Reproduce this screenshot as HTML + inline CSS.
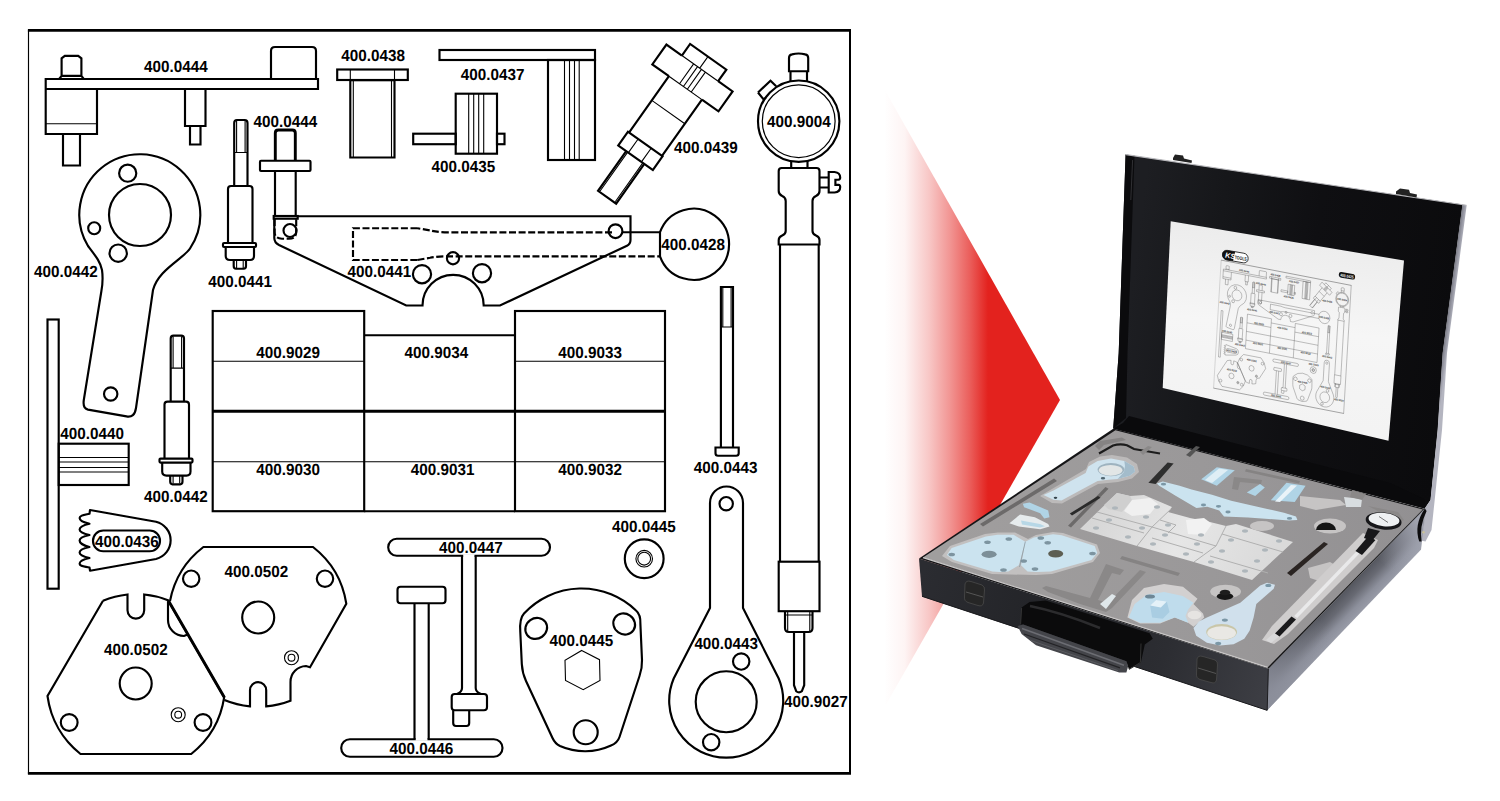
<!DOCTYPE html>
<html lang="de"><head><meta charset="utf-8"><title>400.0425</title>
<style>
html,body{margin:0;padding:0;background:#fff}
svg{display:block}
#dr path,#dr rect,#dr circle,#dr ellipse{fill:none;stroke:#000;stroke-width:2.15}
#dr .t{stroke-width:1.1}
#dr .m{stroke-width:1.2}
#dr .k{stroke-width:2.9}
#dr .d{stroke-dasharray:7 2.6}
#dr .w{stroke:#fff;stroke-width:3}
#dr text{font-family:"Liberation Sans",sans-serif;font-weight:bold;font-size:16.1px;fill:#000;stroke:none;text-rendering:geometricPrecision}
#mini path,#mini rect,#mini circle,#mini ellipse{fill:none;stroke:#4a4a4a;stroke-width:2}
#mini .w{stroke:#f4f4f4}
#mini text{font-family:"Liberation Sans",sans-serif;font-weight:bold;font-size:15px;fill:#333}
</style></head><body>
<svg width="1500" height="801" viewBox="0 0 1500 801">
<defs><linearGradient id="ag" gradientUnits="userSpaceOnUse" x1="884" y1="0" x2="988" y2="0">
<stop offset="0" stop-color="#e3221e" stop-opacity="0"/><stop offset="0.2" stop-color="#e3221e" stop-opacity="0.05"/><stop offset="0.44" stop-color="#e3221e" stop-opacity="0.26"/><stop offset="0.635" stop-color="#e3221e" stop-opacity="0.48"/><stop offset="0.827" stop-color="#e3221e" stop-opacity="0.73"/><stop offset="1" stop-color="#e3221e" stop-opacity="1"/></linearGradient></defs>
<path fill="url(#ag)" d="M880,81.5 L1060,400 L880,715 Z"/>
<defs>
<linearGradient id="lidg" gradientUnits="userSpaceOnUse" x1="1130" y1="300" x2="1450" y2="340">
<stop offset="0" stop-color="#1d1e22"/><stop offset="0.25" stop-color="#16171a"/><stop offset="0.55" stop-color="#0f0f12"/><stop offset="1" stop-color="#0b0b0d"/></linearGradient>
<linearGradient id="wallg" gradientUnits="userSpaceOnUse" x1="1440" y1="353" x2="1447.5" y2="354">
<stop offset="0" stop-color="#4a4b52"/><stop offset="0.5" stop-color="#8b8c97"/><stop offset="1" stop-color="#b4b5c0"/></linearGradient>
<linearGradient id="frontfg" gradientUnits="userSpaceOnUse" x1="920" y1="580" x2="1268" y2="690">
<stop offset="0" stop-color="#2b2c31"/><stop offset="0.35" stop-color="#232428"/><stop offset="0.7" stop-color="#2c2d32"/><stop offset="1" stop-color="#3d3e44"/></linearGradient>
<linearGradient id="sideg" gradientUnits="userSpaceOnUse" x1="1346" y1="589" x2="1366" y2="608.5"><stop offset="0" stop-color="#54565e"/><stop offset="0.35" stop-color="#686a73"/><stop offset="0.7" stop-color="#8c8f9b"/><stop offset="1" stop-color="#9a9da9"/></linearGradient><linearGradient id="sidef" gradientUnits="userSpaceOnUse" x1="1268" y1="690" x2="1330" y2="628"><stop offset="0" stop-color="#8b8e9a" stop-opacity="0.9"/><stop offset="1" stop-color="#8b8e9a" stop-opacity="0"/></linearGradient><linearGradient id="sideh" gradientUnits="userSpaceOnUse" x1="1423" y1="528" x2="1385" y2="566"><stop offset="0" stop-color="#a3a6b2" stop-opacity="0.95"/><stop offset="1" stop-color="#a3a6b2" stop-opacity="0"/></linearGradient>
<linearGradient id="frontg" gradientUnits="userSpaceOnUse" x1="0" y1="0" x2="12" y2="-38" spreadMethod="pad">
<stop offset="0" stop-color="#1a1a1a"/><stop offset="1" stop-color="#101010"/></linearGradient>
<linearGradient id="paperg" gradientUnits="userSpaceOnUse" x1="1290" y1="235" x2="1270" y2="420">
<stop offset="0" stop-color="#ececec"/><stop offset="0.5" stop-color="#f6f6f6"/><stop offset="1" stop-color="#f3f3f3"/></linearGradient>
<linearGradient id="alu" gradientUnits="userSpaceOnUse" x1="1100" y1="500" x2="1260" y2="580">
<stop offset="0" stop-color="#d6d6d6"/><stop offset="0.5" stop-color="#e6e6e6"/><stop offset="1" stop-color="#dadada"/></linearGradient>
<linearGradient id="foamg" gradientUnits="userSpaceOnUse" x1="950" y1="560" x2="1420" y2="520"><stop offset="0" stop-color="#a09e9e"/><stop offset="0.55" stop-color="#9a9899"/><stop offset="1" stop-color="#929092"/></linearGradient>
</defs>
<polygon points="1125.6,154.5 1462.6,204.6 1442.8,353 1437.8,430 1430.6,500 1424.8,508.6 1113.2,428.4 1118.7,353" fill="url(#lidg)" />
<polygon points="1125.6,154.5 1134.5,155.8 1127.5,353 1126,418 1113.2,428.4 1118.7,353" fill="#0b0b0d" />
<path d="M1132.6,160 L1130.8,200" stroke="#3a3a3e" stroke-width="0.8" fill="none"/>
<polygon points="1462.4,204.6 1466.7,205.2 1447,353 1442,430 1434.7,500 1431.5,530 1425.5,541.5 1420.5,540.5 1419.5,531 1424.6,508.7 1430.5,500 1437.6,430 1442.6,353" fill="url(#wallg)" />
<path d="M1126,154.6 L1466.4,205.2" stroke="#b9b9bd" stroke-width="1.1" fill="none"/>
<polygon points="1173,158 1175,154.5 1183,155.5 1184,158.5 1192,160.5 1191.5,163 1173,160" fill="#222" />
<polygon points="1396,191.5 1400,188.5 1409,189.8 1410,193 1417,194.5 1416.5,197.5 1396,194" fill="#222" />
<polygon points="1129,416 1160,424 1390,483 1424,499 1425,508.6 1113.2,428.4 1123,423" fill="#0a0a0c" />
<polygon points="1170.7,221.3 1404,260.5 1388.5,440.8 1162.7,388" fill="url(#paperg)" />
<g id="mini" transform="matrix(0.1583,0.0308,-0.01023,0.1723,1216.99,253.98)">
<path style="stroke-width:2.8px" d="M27.9,30.45 H851"/>
<path style="stroke-width:2.7px" d="M27.9,773.45 H851"/>
<path style="stroke-width:1.15px" d="M28.5,30 V774"/>
<path style="stroke-width:2px" d="M850,30 V774"/>
<path d="M45.7,79 H318 V89 H45.7 Z M45.7,89 V134 H97 V89"/>
<path class="t" d="M45.7,123.7 H97"/>
<path d="M59.3,78.7 L61.6,75.9 V58.3 L64.8,55.9 H78.2 L81.4,58.3 V75.9 L83.6,78.7 M61.6,75.9 H81.4"/>
<path d="M63,134 V165.5 H80 V134 M185,89 V126 H205.5 V89 M190,126 V144.5 H200.5 V126"/>
<path d="M271,79 V51 Q271,47 275,47 H312 Q316,47 316,51 V79"/>
<g transform="translate(0,0)">
<path d="M234.2,186 V123 Q234.2,120 237,120 H244.7 Q247.5,120 247.5,123 V186"/>
<path class="t" d="M236.6,121 V152.5 M245.1,121 V152.5 M234.2,152.5 H247.5"/>
<path d="M228,243 V189 Q228,186 231,186 H249.5 Q252.5,186 252.5,189 V243"/>
<rect x="223" y="243" width="33" height="4" rx="1"/>
<path d="M225.7,247 V256 Q225.7,260 230,260 H250 Q254,260 254,256 V247"/>
<path d="M233.7,260 V266 Q233.7,268.7 236,268.7 H243.7 Q246,268.7 246,266 V260"/>
<path class="t" d="M236.6,260 V268 M243.2,260 V268"/>
</g>
<g transform="translate(-63.5,215.6)">
<path d="M234.2,186 V123 Q234.2,120 237,120 H244.7 Q247.5,120 247.5,123 V186"/>
<path class="t" d="M236.6,121 V152.5 M245.1,121 V152.5 M234.2,152.5 H247.5"/>
<path d="M228,243 V189 Q228,186 231,186 H249.5 Q252.5,186 252.5,189 V243"/>
<rect x="223" y="243" width="33" height="4" rx="1"/>
<path d="M225.7,247 V256 Q225.7,260 230,260 H250 Q254,260 254,256 V247"/>
<path d="M233.7,260 V266 Q233.7,268.7 236,268.7 H243.7 Q246,268.7 246,266 V260"/>
<path class="t" d="M236.6,260 V268 M243.2,260 V268"/>
</g>
<path d="M101.4,291 Q103.4,280 102,270 C100.5,262 96,256.5 88,246 A60.5,60.5 0 1 1 190,248.5 C183,259 158,270 153,290 L136,408 Q134.5,418 126.5,416.4 L88,409.6 Q82.6,408.5 83.8,400 Z"/>
<circle cx="140" cy="215" r="31"/><circle cx="127.7" cy="173.2" r="8.6"/><circle cx="94.2" cy="228.2" r="6"/><circle cx="118.2" cy="253.2" r="8.7"/><circle cx="110.7" cy="394" r="6.7"/>
<path class="k" d="M275.3,160.7 V133 Q275.3,130 278.3,130 H292.3 Q295.3,130 295.3,133 V160.7"/>
<rect x="260" y="160.7" width="50.5" height="10.3" rx="1"/>
<path d="M275,171 V216 M295.7,171 V216"/><rect x="273.7" y="216" width="24" height="2.7"/>
<path class="d" d="M274.6,219 V232 Q274.6,238.7 282,238.7 H289 Q296.2,238.7 296.2,232 V219"/>
<circle cx="290" cy="230.5" r="6.5"/>
<path d="M297,216.2 H630.5 V240 Q630.5,244 627,245.7 L500,305.5 H483.7 A30.6,30.6 0 0 0 422.5,305.5 H406.2 L279,245 Q274.3,242.5 274.3,238 V219"/>
<path class="d" d="M417.5,228.2 H353 V260 H417.5 M612,232.4 H448 Q438,232.4 430,230.4 L417.5,228.2 M417.5,260 L430,257.8 Q437,256.4 445,256.4 H660"/>
<path d="M623,232.2 H660"/>
<circle cx="615.5" cy="231.2" r="6.9"/><circle cx="453" cy="258.2" r="6.1"/><circle cx="422" cy="274.2" r="9.1"/><circle cx="482" cy="273.2" r="9.1"/>
<path d="M660,232.2 A35.6,35.6 0 1 1 660,256.3 Z"/>
<rect x="337.2" y="69.5" width="70.6" height="10.5"/><path d="M350.3,80 V157.5 H394.5 V80"/>
<path class="t" d="M353.3,80 V157 M391.5,80 V157 M350.3,69.5 V80 M394.5,69.5 V80 M350.3,80.6 H394.5"/>
<rect x="439.5" y="50" width="155.5" height="10"/><rect x="548" y="60" width="47" height="100"/>
<path class="t" d="M564.5,60 V160 M569.5,60 V160 M574.5,60 V160 M579.2,60 V160"/>
<rect x="455.7" y="93.7" width="41.3" height="60"/><rect x="413.2" y="133.7" width="42.5" height="10.5"/><rect x="497" y="133.7" width="7.5" height="10.5"/>
<path class="t" d="M468.7,93.7 V153.7 M473.7,93.7 V153.7 M478.7,93.7 V153.7 M483.7,93.7 V153.7"/>
<g transform="matrix(0.815,0.578,-0.578,0.815,699.5,68)"><path d="M-21.6,0 V-14.2 H22.9 V0"/><path d="M-21.6,0 H-40.6 V24.4 H-20.2 M20.3,24.4 H40.6 V0 H22.9"/><path d="M-20.2,24.4 V93.5 M20.3,24.4 V93.5"/><path class="t" d="M-21.6,0 H22.9 M-20.2,24.4 H20.3 M-20.2,54 H20.3 M-9,93.5 V110.3 M7,93.5 V110.3 M-9.9,110.3 V158 M8.7,110.3 V158 M-7.2,0 V24.4 M-2.4,0 V24.4 M2.4,0 V24.4 M7.2,0 V24.4 M0.3,-14.2 V0"/><rect x="-21.5" y="93.5" width="42.5" height="16.8"/><path d="M-11.7,110.3 V159 H10.5 V110.3"/></g>
<circle cx="798.7" cy="121.2" r="40.7"/><circle class="m" cx="798.7" cy="121.2" r="36.4"/>
<path d="M789,71.2 V58 Q789,55 792,54.4 Q798.6,52.6 805.2,54.4 Q808.2,55 808.2,58 V71.2 Z M790.5,71.2 V81.3 M807,71.2 V81.3"/>
<path d="M758,92.5 L770.5,80.7 L776.2,86.2 M758,92.5 L763.7,99.5 L766,97.5"/>
<path d="M791.2,161 V168 M807.5,161 V168"/>
<path d="M781.7,168 H816.5 Q819.5,168 819.5,171 V191 Q819.5,194.5 816,196 Q812.5,197.5 812.5,201 V231 Q812.5,234 816,235.6 Q819.5,237.2 819.5,240 V244.5 H778.7 V240 Q778.7,237.2 782.2,235.6 Q785.7,234 785.7,231 V201 Q785.7,197.5 782.2,196 Q778.7,194.5 778.7,191 V171 Q778.7,168 781.7,168 Z"/>
<path d="M780,244.5 V561.7 M818.7,244.5 V561.7"/><rect x="778.7" y="561.7" width="40.8" height="49.5"/>
<path d="M785,611.2 V628 Q785,632 789,632 H808.5 Q812.5,632 812.5,628 V611.2"/>
<path class="t" d="M787.7,611.2 V631 M809.8,611.2 V631 M785,615 H812.5"/>
<path d="M794,632 V685.2 L796.2,691.2 Q799,693.6 801.9,691.2 L804.2,685.2 V632"/>
<path d="M819.5,177.5 H828.7 M819.5,187.5 H828.7 M828.7,172 H834.5 Q840.2,172.5 840.2,177.5 Q840.2,179.5 838.5,179.7 H835.4 V184.8 H838.5 Q840.2,185 840.2,187 Q840.2,192 834.5,192.5 H828.7 Z"/>
<path d="M720.9,447.5 V287 H733 V447.5"/><path class="t" d="M722.8,287 V327 M731.1,287 V327 M720.9,327 H733"/>
<path d="M715.5,447.5 H738.7 V453.2 Q738.7,455.7 736.2,455.7 H718 Q715.5,455.7 715.5,453.2 Z"/>
<path d="M710,608 V503 A16.5,16.5 0 0 1 743,503 V608 L778.7,678.5 A57,57 0 1 1 673.7,678.5 Z"/>
<circle cx="726.2" cy="701.7" r="30.5"/><circle cx="741.2" cy="661.5" r="8.2"/><circle cx="711.2" cy="742.2" r="8.2"/><circle cx="726.2" cy="503.7" r="6.7"/>
<rect x="212.7" y="311" width="151.5" height="200.2"/><rect x="515" y="311" width="150" height="200.2"/>
<path d="M364.2,335.2 H515 M364.2,511.2 H515"/><path class="k" d="M212.7,411.2 H665"/>
<path class="t" d="M212.7,361.3 H364.2 M515,361.3 H665 M212.7,461.8 H665"/>
<rect x="47.5" y="319.5" width="11.2" height="269.2"/><rect x="58.7" y="443.7" width="70" height="41.3"/>
<path class="t" d="M58.7,457.5 H128.7 M58.7,462 H128.7 M58.7,467.5 H128.7 M58.7,472 H128.7"/>
<path stroke-linejoin="round" d="M90,570.7 L156,559 A19.2,19.2 0 0 0 156,521.7 L90,510 L89.5,513.8 C84,515.0 79.6,515.4 79.6,518 C79.6,520.6 84,522.5 89.5,523.7 C84,524.9000000000001 79.6,526.9 79.6,529.5 C79.6,532.1 84,533.8 89.5,535 C84,536.2 79.6,537.9 79.6,540.5 C79.6,543.1 84,545.8 89.5,547 C84,548.2 79.6,549.9 79.6,552.5 C79.6,555.1 84,556.8 89.5,558 C84,559.2 79.6,561.1 79.6,563.7 C79.6,566.3000000000001 84,566.3 89.5,567.5 Z"/>
<rect x="93" y="530.5" width="67" height="20.7" rx="10.3"/>
<path d="M103,600.7 A89.3,89.3 0 0 1 127.5,594.5 V610.3 A8.35,8.35 0 0 0 144.2,610.3 V594.5 A89.3,89.3 0 0 1 168,600.3 V620 A16,16 0 0 0 184,636 L187.6,634.5 M168,600.3 L224.2,697.2 A89.3,89.3 0 0 1 191.2,754 H80.5 A89.3,89.3 0 0 1 47.5,696 L103,600.7"/>
<circle cx="135.7" cy="683.5" r="16"/>
<circle cx="69.2" cy="722.5" r="8.4"/>
<circle cx="203" cy="722.5" r="8.4"/>
<circle class="t" cx="178.2" cy="714.7" r="7"/>
<circle class="t" cx="178.2" cy="714.7" r="3.4"/>
<path class="k" d="M168.6,601 L224.4,697.6"/>
<path d="M170,601 A89.3,89.3 0 0 1 203.4,547 H313 A89.3,89.3 0 0 1 346.3,603.7 L310,667.2 L306,666 A16,16 0 0 0 290.5,682 V700.8 A89.3,89.3 0 0 1 266.2,706.4 V690.2 A8.1,8.1 0 0 0 250,690.2 V706.4 A89.3,89.3 0 0 1 224.4,700"/>
<circle cx="258.2" cy="617.5" r="16"/>
<circle cx="191.2" cy="578.7" r="8.2"/>
<circle cx="325" cy="578.7" r="8.2"/>
<circle class="t" cx="291.5" cy="657.7" r="7"/>
<circle class="t" cx="291.5" cy="657.7" r="3.4"/>
<rect x="388.2" y="538.7" width="161.8" height="17" rx="8.5"/>
<path class="w" d="M463.2,555.7 H474.5"/>
<path d="M462,555.7 V688 Q462,692 457,694 M475.7,555.7 V688 Q475.7,692 481,694"/>
<rect x="451.7" y="694" width="35.3" height="16.2" rx="3"/>
<path d="M453.2,710.2 V723 Q453.2,726 456,726 H466.5 Q469.2,726 469.2,723 V710.2"/>
<rect x="397.5" y="586.7" width="48" height="16.5" rx="3"/>
<rect x="341.2" y="739.2" width="161.3" height="17.5" rx="8.7"/>
<path class="w" d="M415.7,739.2 H427.5"/>
<path d="M414.5,603.2 V739.2 M428.7,603.2 V739.2"/>
<circle cx="644.2" cy="558.7" r="19.4"/><circle class="t" cx="644.2" cy="558.7" r="8.3"/><circle class="t" cx="644.2" cy="558.7" r="6.4"/>
<path d="M520.3,632 Q519.3,618.5 524,613.5 A78.6,78.6 0 0 1 636,610.5 Q640.8,614.5 640.4,624 L642,660 Q642.3,668 639.5,676 L619.5,737 Q617.5,743 611,745.5 A62,62 0 0 1 560,746 Q555,743.5 552.5,738 L526,681 Q522.3,673 521.8,664 Z"/>
<ellipse cx="536.2" cy="628.4" rx="11.2" ry="10.2" transform="rotate(-35 536.2 628.4)"/><ellipse cx="624.2" cy="624" rx="11.2" ry="10.2" transform="rotate(35 624.2 624)"/><circle cx="585.7" cy="732.2" r="12"/>
<path class="t" d="M581.7,650.5 L599.5,659.7 L600,680.5 L583.2,689.7 L565.5,680.5 L565,660.2 Z"/>
<text x="144.1" y="71.9" textLength="63.6" lengthAdjust="spacingAndGlyphs">400.0444</text>
<text x="253.6" y="127.4" textLength="63.6" lengthAdjust="spacingAndGlyphs">400.0444</text>
<text x="341.3" y="60.9" textLength="63.6" lengthAdjust="spacingAndGlyphs">400.0438</text>
<text x="460.8" y="79.6" textLength="63.6" lengthAdjust="spacingAndGlyphs">400.0437</text>
<text x="431.6" y="172.4" textLength="63.6" lengthAdjust="spacingAndGlyphs">400.0435</text>
<text x="674.1" y="153.4" textLength="63.6" lengthAdjust="spacingAndGlyphs">400.0439</text>
<text x="767.1" y="127.4" textLength="63.6" lengthAdjust="spacingAndGlyphs">400.9004</text>
<text x="34.1" y="277.4" textLength="63.6" lengthAdjust="spacingAndGlyphs">400.0442</text>
<text x="208.3" y="287.4" textLength="63.6" lengthAdjust="spacingAndGlyphs">400.0441</text>
<text x="347.6" y="277.4" textLength="63.6" lengthAdjust="spacingAndGlyphs">400.0441</text>
<text x="661.3" y="250.4" textLength="63.6" lengthAdjust="spacingAndGlyphs">400.0428</text>
<text x="256.3" y="358.4" textLength="63.6" lengthAdjust="spacingAndGlyphs">400.9029</text>
<text x="404.6" y="358.4" textLength="63.6" lengthAdjust="spacingAndGlyphs">400.9034</text>
<text x="558.3" y="358.4" textLength="63.6" lengthAdjust="spacingAndGlyphs">400.9033</text>
<text x="60.3" y="439.1" textLength="63.6" lengthAdjust="spacingAndGlyphs">400.0440</text>
<text x="144.1" y="501.6" textLength="63.6" lengthAdjust="spacingAndGlyphs">400.0442</text>
<text x="256.3" y="474.6" textLength="63.6" lengthAdjust="spacingAndGlyphs">400.9030</text>
<text x="410.8" y="474.6" textLength="63.6" lengthAdjust="spacingAndGlyphs">400.9031</text>
<text x="558.3" y="474.6" textLength="63.6" lengthAdjust="spacingAndGlyphs">400.9032</text>
<text x="693.8" y="472.9" textLength="63.6" lengthAdjust="spacingAndGlyphs">400.0443</text>
<text x="95.1" y="546.6" textLength="63.6" lengthAdjust="spacingAndGlyphs">400.0436</text>
<text x="224.6" y="576.6" textLength="63.6" lengthAdjust="spacingAndGlyphs">400.0502</text>
<text x="104.1" y="654.6" textLength="63.6" lengthAdjust="spacingAndGlyphs">400.0502</text>
<text x="439.1" y="553.4" textLength="63.6" lengthAdjust="spacingAndGlyphs">400.0447</text>
<text x="612.1" y="531.6" textLength="63.6" lengthAdjust="spacingAndGlyphs">400.0445</text>
<text x="549.6" y="645.6" textLength="63.6" lengthAdjust="spacingAndGlyphs">400.0445</text>
<text x="389.6" y="753.9" textLength="63.6" lengthAdjust="spacingAndGlyphs">400.0446</text>
<text x="694.4" y="649.4" textLength="63.6" lengthAdjust="spacingAndGlyphs">400.0443</text>
<text x="784.1" y="707.1" textLength="63.6" lengthAdjust="spacingAndGlyphs">400.9027</text>
</g>
<g transform="matrix(0.985,0.17,-0.06,0.998,1222.8,249.6)"><rect x="0" y="0" width="26" height="9.6" rx="4.6" fill="#fff" stroke="#111" stroke-width="0.8"/><path d="M4.5,0 H12.5 L11,9.6 H4.5 A4.6,4.6 0 0 1 4.5,0 Z" fill="#111"/><text x="2.6" y="7.6" font-family="Liberation Sans,sans-serif" font-weight="bold" font-style="italic" font-size="7.4" fill="#fff">KS</text><text x="12.6" y="7.2" font-family="Liberation Sans,sans-serif" font-weight="bold" font-size="5" fill="#111" textLength="12" lengthAdjust="spacingAndGlyphs">TOOLS</text></g>
<g transform="matrix(0.985,0.17,-0.06,0.998,1339,271.6)"><rect x="0" y="0" width="16.5" height="5.6" rx="2.6" fill="#111"/><text x="1.6" y="4.5" font-family="Liberation Sans,sans-serif" font-weight="bold" font-size="4" fill="#eee" textLength="13.3" lengthAdjust="spacingAndGlyphs">400.0425</text></g>
<polygon points="1268.5,668.8 1424.6,508.7 1421,549.5 1267,710.5" fill="url(#sideg)" />
<polygon points="1268.5,668.8 1424.6,508.7 1421,549.5 1267,710.5" fill="url(#sidef)" />
<polygon points="1268.5,668.8 1424.6,508.7 1421,549.5 1267,710.5" fill="url(#sideh)" />
<polygon points="919,558.5 1268.5,668.8 1267.3,710.5 922,596.5" fill="url(#frontfg)" />
<path d="M1268.3,669 L1267.2,710.3" stroke="#1c1c1f" stroke-width="1" fill="none"/>
<path d="M922,596.3 L1267,710.3" stroke="#1a1a1d" stroke-width="1" fill="none"/>
<path d="M1424.9,508.4 Q1413.5,525 1419.3,541.6 L1421.6,541.4 Q1419,527 1426.6,511 Z" fill="#0c0c0e"/>
<circle cx="1423.5" cy="532.3" r="1.3" fill="#c9c19a"/>
<polygon points="1113.6,428.6 1424.6,508.7 1268.5,668.8 919,558.5" fill="#151517" />
<polygon points="1115.4,430.2 1422.8,509.4 1267.6,667.4 923,557.6" fill="url(#foamg)" />
<path d="M923,557.6 L1267.6,667.4" stroke="#c9c7c7" stroke-width="1.2" fill="none"/><polygon points="1054,478.6 1057,481 983,526.4 980,524" fill="#6c6a6a" />
<polygon points="1095,446 1100,441 1122,437.5 1126,440 1104,445 1099,450" fill="#858383" />
<path d="M1099,453.5 L1113,445.5 Q1120,443.5 1127,445.2 L1134,449 L1160,453.5" stroke="#1c1c1c" stroke-width="2.2" fill="none"/>
<polygon points="1140,452 1148,446 1152,447 1143,455" fill="#8a8888" />
<polygon points="1186,455 1196,446 1200,447 1190,457" fill="#555" />
<polygon points="1040,496 1086,469 1089,462 1100,456.5 1112,455 1127,457.5 1137,464 1139,472 1132,478.5 1118,482 1098,484 1062,503.5 1052,503" fill="#bcbaba" />
<polygon points="1043.5,495.1 1053.5,490.5 1085.6,473.1 1088.3,466.4 1097.6,461.1 1111,458.4 1124.3,461.1 1133.7,466.4 1135,471.8 1129.7,475.8 1117.6,479.1 1108.3,479.8 1097.6,481.1 1077.6,491.8 1061.5,500.5 1053.5,499.8" fill="#cfe3ee" />
<polygon points="1124.3,461.1 1133.7,466.4 1135,471.8 1129.7,475.8 1117.6,479.1 1124,472 1125,466" fill="#a3bccb" />
<ellipse cx="1111" cy="469.6" rx="13.4" ry="6.6" fill="#9eb3bf"/>
<ellipse cx="1110.6" cy="470.3" rx="11.8" ry="5.4" fill="#e2e6e6"/>
<ellipse cx="1055.5" cy="497.8" rx="1.8" ry="1.1" fill="#35444c"/><ellipse cx="1103" cy="478.2" rx="2.2" ry="1.3" fill="#51656f"/>
<polygon points="1022.8,503.8 1029.5,502.5 1048.2,510.5 1049.5,517.2 1044.2,518.5 1040.2,513.2 1024.1,507.2" fill="#b0d4e6" />
<polygon points="1009.4,523.2 1020.1,514.5 1034.8,517.2 1048.2,523.9 1049.5,526.5 1040.2,529.2 1018.8,526.5" fill="#e6ebed" />
<polygon points="1021,520.5 1040,524 1045,526.3 1040,527.5 1022,524.5" fill="#b7d7e6" />
<polygon points="1105.5,487 1108.5,488.8 1071,527.5 1068,525.8" fill="#6c6a6a" />
<polygon points="1098,496 1100.5,497.8 1072,515.5 1069.8,513.6" fill="#2a2a2a" />
<polygon points="1080,529 1117,493 1130,496 1144,495 1172,507 1168,512 1190,518 1210,522 1226,526 1236,524 1293,542 1252,580 1194,562 1137,546" fill="url(#alu)" />
<polygon points="1117,493 1130,496 1132,500 1122,512 1108,509 1104,505" fill="#cfcfcf" />
<polygon points="1132,500 1150,498 1158,504 1150,514 1132,516 1124,511" fill="#f0f0f0" />
<polygon points="1186,520 1204,518 1212,524 1204,535 1188,534" fill="#f2f2f2" />
<path d="M1097,512 L1152,527 M1152,527 L1171,509 M1137,546 L1152,527 L1216,546 M1194,562 L1216,546 L1226,526 M1092,518 L1144,533 M1152,538 L1203,553 M1222,534 L1283,552 M1210,556 L1268,573 M1160,520 L1176,525 L1168,533" stroke="#b0b0b0" stroke-width="1" fill="none"/>
<ellipse cx="1096" cy="528" rx="3" ry="1.7" fill="#aeb6bb"/>
<ellipse cx="1109" cy="520" rx="3" ry="1.7" fill="#aeb6bb"/>
<ellipse cx="1128" cy="537" rx="3" ry="1.7" fill="#aeb6bb"/>
<ellipse cx="1142" cy="528" rx="3" ry="1.7" fill="#aeb6bb"/>
<ellipse cx="1115" cy="508" rx="3" ry="1.7" fill="#aeb6bb"/>
<ellipse cx="1146" cy="517" rx="3" ry="1.7" fill="#aeb6bb"/>
<ellipse cx="1157" cy="507" rx="3" ry="1.7" fill="#aeb6bb"/>
<ellipse cx="1153" cy="544" rx="3" ry="1.7" fill="#aeb6bb"/>
<ellipse cx="1165" cy="535" rx="3" ry="1.7" fill="#aeb6bb"/>
<ellipse cx="1186" cy="554" rx="3" ry="1.7" fill="#aeb6bb"/>
<ellipse cx="1197" cy="544" rx="3" ry="1.7" fill="#aeb6bb"/>
<ellipse cx="1201" cy="535" rx="3" ry="1.7" fill="#aeb6bb"/>
<ellipse cx="1168" cy="525" rx="3" ry="1.7" fill="#aeb6bb"/>
<ellipse cx="1211" cy="562" rx="3" ry="1.7" fill="#aeb6bb"/>
<ellipse cx="1222" cy="551" rx="3" ry="1.7" fill="#aeb6bb"/>
<ellipse cx="1231" cy="540" rx="3" ry="1.7" fill="#aeb6bb"/>
<ellipse cx="1245" cy="571" rx="3" ry="1.7" fill="#aeb6bb"/>
<ellipse cx="1257" cy="561" rx="3" ry="1.7" fill="#aeb6bb"/>
<ellipse cx="1265" cy="550" rx="3" ry="1.7" fill="#aeb6bb"/>
<ellipse cx="1279" cy="541" rx="3" ry="1.7" fill="#aeb6bb"/>
<ellipse cx="1245" cy="531" rx="3" ry="1.7" fill="#aeb6bb"/>
<polygon points="1156.8,483.4 1162.8,481.6 1179.6,485.8 1191.6,489.4 1212,494.8 1231.2,500.8 1284,512.8 1296,516.4 1297.4,520 1288.8,520.4 1248,517.6 1224,516.4 1219.2,510.4 1207.2,506.8 1196.4,508 1176,496 1159.2,485.8" fill="#cbe3ef" />
<ellipse cx="1163.5" cy="484.2" rx="2.6" ry="1.4" fill="#7b97a6"/>
<ellipse cx="1203.5" cy="505" rx="2.6" ry="1.4" fill="#7b97a6"/>
<ellipse cx="1218.5" cy="506.3" rx="2.6" ry="1.4" fill="#7b97a6"/>
<ellipse cx="1228" cy="512" rx="2.6" ry="1.4" fill="#7b97a6"/>
<ellipse cx="1289.5" cy="518.4" rx="2.6" ry="1.4" fill="#7b97a6"/>
<polygon points="1167.6,462.4 1173.6,463.6 1155.6,484 1148.4,482.8" fill="#2e2e2e" />
<polygon points="1216.8,467.2 1234.8,470.2 1216.8,485.8 1201.2,479.2" fill="#b0d4e6" />
<polygon points="1219,468.5 1228,470 1212,483 1205,480" fill="#dfeef5" />
<polygon points="1286.4,482.8 1305.6,485.8 1294.8,502 1270.8,500.2" fill="#b0d4e6" />
<polygon points="1291,485 1297,485.6 1280,502 1275,501.5" fill="#e9f3f8" />
<polygon points="1260,484 1264.8,487.6 1255.2,496 1246.8,492.4" fill="#b0d4e6" />
<polygon points="1234,477 1262,480 1261,484 1240,482 1238,490 1232,489" fill="#8a8888" />
<polygon points="1246,469 1300,481 1299,483.5 1245,471.5" fill="#858383" />
<polygon points="1300,496 1340,500 1346,505 1316,510 1300,506" fill="#c6c4c4" />
<polygon points="1344,497 1362,499 1361,507 1346,507" fill="#d8dde0" />
<polygon points="1352,490 1366,494 1362,500 1350,497" fill="#8a8888" />
<ellipse cx="1330" cy="526" rx="16" ry="7.5" fill="#c6c4c4"/>
<path d="M1316,530 A10,7.5 0 0 1 1336,530 Z" fill="#151515"/>
<ellipse cx="1262" cy="526" rx="12" ry="5" fill="#c6c4c4"/>
<polygon points="1287,573 1324,542 1328,544 1291,576" fill="#2a2422" />
<polygon points="1308,568 1330,562 1340,568 1322,582 1310,578" fill="#c6c4c4" />
<polygon points="1262,640 1272,626 1363,533 1378,540 1374,548 1288,634 1274,644" fill="#cfcdcd" />
<polygon points="1294.2,616.1 1366,541.5 1369,543.5 1297.2,618.1" fill="#e9e9ea" />
<polygon points="1355.5,551 1368,536.5 1375.5,540 1362,555" fill="#18181a" />
<polygon points="1275,633.5 1291.5,616.5 1296,619.5 1279.5,636.5" fill="#1a1a1c" />
<polygon points="1266,640 1274,633 1279,636.5 1271,643" fill="#d9d9da" />
<polygon points="1368,506 1398,512 1404,520 1396,524 1376,510" fill="#8a8888" />
<ellipse cx="1383.6" cy="521" rx="18" ry="8.6" fill="#17171a" transform="rotate(6 1383.6 521)"/>
<polygon points="1368,528 1380,531 1372,541 1364,538" fill="#17171a" />
<ellipse cx="1384" cy="519.6" rx="15.5" ry="6.6" fill="#eef0f2" transform="rotate(6 1384 519.6)"/>
<path d="M1379,516.5 L1388,522.5" stroke="#444" stroke-width="0.7"/>
<polygon points="942,556 950,546 985,534 998,532.5 1015,532.5 1028,539 1036,535 1053,532 1063,533 1097,544.5 1100,553 1093,562 1052,574 1036,575 1010,574.5 992,574 952,562" fill="#c2c0c0" />
<polygon points="946.9,555 951.7,548 985.9,536.4 997.6,534.8 1013.6,534.8 1025.3,541.7 1018.9,565.2 1008.3,571.6 999.7,572.1 992.3,571.6 953.9,559.9" fill="#cbe3ef" />
<polygon points="1025.3,541.7 1033.9,537.5 1053,534.3 1061.6,535.3 1094.7,546 1097.3,552.9 1091.5,559.9 1050.9,571.6 1036,572.1 1027.5,571.6 1021,565.2" fill="#cbe3ef" />
<path d="M1025.3,541.7 L1019.5,567" stroke="#8a9aa3" stroke-width="0.8"/>
<ellipse cx="989.1" cy="554.3" rx="7.5" ry="3.6" fill="#7d8f98"/><ellipse cx="1055.7" cy="553.7" rx="7.5" ry="3.8" fill="#5d5e52"/>
<ellipse cx="951.7" cy="554.5" rx="3.3" ry="1.8" fill="#7d94a0"/>
<ellipse cx="987.5" cy="542.3" rx="3.3" ry="1.8" fill="#7d94a0"/>
<ellipse cx="1008.8" cy="539" rx="3.3" ry="1.8" fill="#7d94a0"/>
<ellipse cx="1040.8" cy="538" rx="3.3" ry="1.8" fill="#7d94a0"/>
<ellipse cx="1047.7" cy="542.8" rx="3.3" ry="1.8" fill="#7d94a0"/>
<ellipse cx="1092.5" cy="553.5" rx="3.3" ry="1.8" fill="#7d94a0"/>
<ellipse cx="1003.5" cy="570" rx="3.3" ry="1.8" fill="#7d94a0"/>
<ellipse cx="1023.7" cy="561" rx="3.3" ry="1.8" fill="#7d94a0"/>
<ellipse cx="1035" cy="569" rx="3.3" ry="1.8" fill="#7d94a0"/>
<polygon points="1042,588 1046,586 1090,598 1106,564 1112,566 1124,570 1120,575 1112,573 1098,600 1108,603 1140,570 1146,572 1112,608 1106,612 1080,604 1048,592" fill="#8a8888" />
<polygon points="1100,604 1112,594 1116,596 1106,609" fill="#dfe7ea" />
<polygon points="1122,556 1180,573 1178,576 1120,559" fill="#858383" />
<polygon points="1127.4,617.4 1132,600 1144,588 1164,584 1183,586.7 1197.5,598.7 1193.5,604 1203,613.4 1204.2,617.4 1193.5,626.8 1188.2,622.8 1174.8,617.4 1160.1,623.5 1140.1,623.5" fill="#d2d0d0" />
<polygon points="1128.7,617.4 1134.7,604.1 1146.8,594.7 1164.1,592.1 1182.8,596.1 1193.5,602.8 1188.2,609.4 1185.5,616.1 1188.2,622.8 1174.8,617.4 1160.1,622.8 1140.1,622.8" fill="#bfdcec" />
<polygon points="1150.1,605.4 1156.1,600.1 1166.8,601.4 1169.5,612.1 1162.8,618.8 1152.1,617.4" fill="#a9cde2" />
<polygon points="1150.1,605.4 1156.1,600.1 1166.8,601.4 1160.8,607.4" fill="#e4f1f8" />
<ellipse cx="1150" cy="596.5" rx="5" ry="2" fill="#6e8796"/>
<ellipse cx="1194.5" cy="615" rx="7" ry="4.2" fill="#e6e4e2"/>
<ellipse cx="1225.6" cy="591.6" rx="15.4" ry="6.9" fill="#c6c4c4"/>
<ellipse cx="1225" cy="596.3" rx="8.2" ry="3.6" fill="#161616"/><ellipse cx="1225" cy="592.6" rx="5.2" ry="2.8" fill="#1d1d1d"/>
<polygon points="1193.5,628.1 1198.9,621.5 1206.9,617.4 1240.3,602.8 1260.3,585.4 1267,582.7 1275,584.7 1273.7,588.7 1256.3,604.1 1253.6,617.4 1249.6,630.8 1244.3,638.8 1233.6,644.2 1220.2,645.5 1206.9,642.8 1196.2,635.8" fill="#d0e0ec" />
<ellipse cx="1221.6" cy="632.1" rx="15.4" ry="8" fill="#c9c6a8"/>
<ellipse cx="1221.6" cy="633" rx="14.4" ry="6.8" fill="#e9e8e4"/>
<ellipse cx="1268.3" cy="585.4" rx="3" ry="1.7" fill="#7b97a6"/>
<ellipse cx="1224.9" cy="620.1" rx="3" ry="1.7" fill="#7b97a6"/>
<ellipse cx="1218.2" cy="643.5" rx="3" ry="1.7" fill="#7b97a6"/><g fill="#262626" stroke="#4a4a4a" stroke-width="0.8"><path d="M965,584 Q966,580 971,581.5 L982,585 Q985,586.5 984.5,590 L983.5,603 Q982.5,607 978,605.5 L968,602.5 Q964,601 964.5,597 Z"/><path d="M1197,659 Q1198,655 1203,656.5 L1215,660 Q1218,661.5 1217.5,665 L1216.5,680 Q1215.5,684 1211,682.5 L1200,679.5 Q1196,678 1196.5,674 Z"/></g>
<path d="M966,592 L983,597 M1198,668 L1216,673.5" stroke="#555" stroke-width="1" fill="none"/>
<polygon points="1020.8,624.4 1021.6,607.6 1029.6,602 1045.6,600.4 1149.6,633.2 1152.8,638.8 1144.8,644.4 1140.8,662.8 1128.8,669.2 1126.4,661.2 1023.2,624.4" fill="#0b0b0c" />
<polygon points="1017.6,626 1023.2,624.4 1126.4,661.2 1128.2,666 1126.4,672.6 1119.2,672.6 1036,645.2 1021.6,634" fill="#44454a" />
<path d="M1022,628.5 L1124,665.2" stroke="#6c6d73" stroke-width="1.6" fill="none"/>
<path d="M1024,634 L1120,667.8" stroke="#232326" stroke-width="1.3" fill="none"/>
<path d="M1030,640.2 L1118,670.6" stroke="#5a5b60" stroke-width="1" fill="none"/>
<path d="M1021.6,608 L1020.6,624 M1141,643.5 L1140.4,662.5 L1129,669.5" stroke="#333" stroke-width="1" fill="none"/>
<path d="M1030,606 Q1060,612 1100,628" stroke="#2c2c2e" stroke-width="2.5" fill="none"/><g id="dr">
<path style="stroke-width:2.8px" d="M27.9,30.45 H851"/>
<path style="stroke-width:2.7px" d="M27.9,773.45 H851"/>
<path style="stroke-width:1.15px" d="M28.5,30 V774"/>
<path style="stroke-width:2px" d="M850,30 V774"/>
<path d="M45.7,79 H318 V89 H45.7 Z M45.7,89 V134 H97 V89"/>
<path class="t" d="M45.7,123.7 H97"/>
<path d="M59.3,78.7 L61.6,75.9 V58.3 L64.8,55.9 H78.2 L81.4,58.3 V75.9 L83.6,78.7 M61.6,75.9 H81.4"/>
<path d="M63,134 V165.5 H80 V134 M185,89 V126 H205.5 V89 M190,126 V144.5 H200.5 V126"/>
<path d="M271,79 V51 Q271,47 275,47 H312 Q316,47 316,51 V79"/>
<g transform="translate(0,0)">
<path d="M234.2,186 V123 Q234.2,120 237,120 H244.7 Q247.5,120 247.5,123 V186"/>
<path class="t" d="M236.6,121 V152.5 M245.1,121 V152.5 M234.2,152.5 H247.5"/>
<path d="M228,243 V189 Q228,186 231,186 H249.5 Q252.5,186 252.5,189 V243"/>
<rect x="223" y="243" width="33" height="4" rx="1"/>
<path d="M225.7,247 V256 Q225.7,260 230,260 H250 Q254,260 254,256 V247"/>
<path d="M233.7,260 V266 Q233.7,268.7 236,268.7 H243.7 Q246,268.7 246,266 V260"/>
<path class="t" d="M236.6,260 V268 M243.2,260 V268"/>
</g>
<g transform="translate(-63.5,215.6)">
<path d="M234.2,186 V123 Q234.2,120 237,120 H244.7 Q247.5,120 247.5,123 V186"/>
<path class="t" d="M236.6,121 V152.5 M245.1,121 V152.5 M234.2,152.5 H247.5"/>
<path d="M228,243 V189 Q228,186 231,186 H249.5 Q252.5,186 252.5,189 V243"/>
<rect x="223" y="243" width="33" height="4" rx="1"/>
<path d="M225.7,247 V256 Q225.7,260 230,260 H250 Q254,260 254,256 V247"/>
<path d="M233.7,260 V266 Q233.7,268.7 236,268.7 H243.7 Q246,268.7 246,266 V260"/>
<path class="t" d="M236.6,260 V268 M243.2,260 V268"/>
</g>
<path d="M101.4,291 Q103.4,280 102,270 C100.5,262 96,256.5 88,246 A60.5,60.5 0 1 1 190,248.5 C183,259 158,270 153,290 L136,408 Q134.5,418 126.5,416.4 L88,409.6 Q82.6,408.5 83.8,400 Z"/>
<circle cx="140" cy="215" r="31"/><circle cx="127.7" cy="173.2" r="8.6"/><circle cx="94.2" cy="228.2" r="6"/><circle cx="118.2" cy="253.2" r="8.7"/><circle cx="110.7" cy="394" r="6.7"/>
<path class="k" d="M275.3,160.7 V133 Q275.3,130 278.3,130 H292.3 Q295.3,130 295.3,133 V160.7"/>
<rect x="260" y="160.7" width="50.5" height="10.3" rx="1"/>
<path d="M275,171 V216 M295.7,171 V216"/><rect x="273.7" y="216" width="24" height="2.7"/>
<path class="d" d="M274.6,219 V232 Q274.6,238.7 282,238.7 H289 Q296.2,238.7 296.2,232 V219"/>
<circle cx="290" cy="230.5" r="6.5"/>
<path d="M297,216.2 H630.5 V240 Q630.5,244 627,245.7 L500,305.5 H483.7 A30.6,30.6 0 0 0 422.5,305.5 H406.2 L279,245 Q274.3,242.5 274.3,238 V219"/>
<path class="d" d="M417.5,228.2 H353 V260 H417.5 M612,232.4 H448 Q438,232.4 430,230.4 L417.5,228.2 M417.5,260 L430,257.8 Q437,256.4 445,256.4 H660"/>
<path d="M623,232.2 H660"/>
<circle cx="615.5" cy="231.2" r="6.9"/><circle cx="453" cy="258.2" r="6.1"/><circle cx="422" cy="274.2" r="9.1"/><circle cx="482" cy="273.2" r="9.1"/>
<path d="M660,232.2 A35.6,35.6 0 1 1 660,256.3 Z"/>
<rect x="337.2" y="69.5" width="70.6" height="10.5"/><path d="M350.3,80 V157.5 H394.5 V80"/>
<path class="t" d="M353.3,80 V157 M391.5,80 V157 M350.3,69.5 V80 M394.5,69.5 V80 M350.3,80.6 H394.5"/>
<rect x="439.5" y="50" width="155.5" height="10"/><rect x="548" y="60" width="47" height="100"/>
<path class="t" d="M564.5,60 V160 M569.5,60 V160 M574.5,60 V160 M579.2,60 V160"/>
<rect x="455.7" y="93.7" width="41.3" height="60"/><rect x="413.2" y="133.7" width="42.5" height="10.5"/><rect x="497" y="133.7" width="7.5" height="10.5"/>
<path class="t" d="M468.7,93.7 V153.7 M473.7,93.7 V153.7 M478.7,93.7 V153.7 M483.7,93.7 V153.7"/>
<g transform="matrix(0.815,0.578,-0.578,0.815,699.5,68)"><path d="M-21.6,0 V-14.2 H22.9 V0"/><path d="M-21.6,0 H-40.6 V24.4 H-20.2 M20.3,24.4 H40.6 V0 H22.9"/><path d="M-20.2,24.4 V93.5 M20.3,24.4 V93.5"/><path class="t" d="M-21.6,0 H22.9 M-20.2,24.4 H20.3 M-20.2,54 H20.3 M-9,93.5 V110.3 M7,93.5 V110.3 M-9.9,110.3 V158 M8.7,110.3 V158 M-7.2,0 V24.4 M-2.4,0 V24.4 M2.4,0 V24.4 M7.2,0 V24.4 M0.3,-14.2 V0"/><rect x="-21.5" y="93.5" width="42.5" height="16.8"/><path d="M-11.7,110.3 V159 H10.5 V110.3"/></g>
<circle cx="798.7" cy="121.2" r="40.7"/><circle class="m" cx="798.7" cy="121.2" r="36.4"/>
<path d="M789,71.2 V58 Q789,55 792,54.4 Q798.6,52.6 805.2,54.4 Q808.2,55 808.2,58 V71.2 Z M790.5,71.2 V81.3 M807,71.2 V81.3"/>
<path d="M758,92.5 L770.5,80.7 L776.2,86.2 M758,92.5 L763.7,99.5 L766,97.5"/>
<path d="M791.2,161 V168 M807.5,161 V168"/>
<path d="M781.7,168 H816.5 Q819.5,168 819.5,171 V191 Q819.5,194.5 816,196 Q812.5,197.5 812.5,201 V231 Q812.5,234 816,235.6 Q819.5,237.2 819.5,240 V244.5 H778.7 V240 Q778.7,237.2 782.2,235.6 Q785.7,234 785.7,231 V201 Q785.7,197.5 782.2,196 Q778.7,194.5 778.7,191 V171 Q778.7,168 781.7,168 Z"/>
<path d="M780,244.5 V561.7 M818.7,244.5 V561.7"/><rect x="778.7" y="561.7" width="40.8" height="49.5"/>
<path d="M785,611.2 V628 Q785,632 789,632 H808.5 Q812.5,632 812.5,628 V611.2"/>
<path class="t" d="M787.7,611.2 V631 M809.8,611.2 V631 M785,615 H812.5"/>
<path d="M794,632 V685.2 L796.2,691.2 Q799,693.6 801.9,691.2 L804.2,685.2 V632"/>
<path d="M819.5,177.5 H828.7 M819.5,187.5 H828.7 M828.7,172 H834.5 Q840.2,172.5 840.2,177.5 Q840.2,179.5 838.5,179.7 H835.4 V184.8 H838.5 Q840.2,185 840.2,187 Q840.2,192 834.5,192.5 H828.7 Z"/>
<path d="M720.9,447.5 V287 H733 V447.5"/><path class="t" d="M722.8,287 V327 M731.1,287 V327 M720.9,327 H733"/>
<path d="M715.5,447.5 H738.7 V453.2 Q738.7,455.7 736.2,455.7 H718 Q715.5,455.7 715.5,453.2 Z"/>
<path d="M710,608 V503 A16.5,16.5 0 0 1 743,503 V608 L778.7,678.5 A57,57 0 1 1 673.7,678.5 Z"/>
<circle cx="726.2" cy="701.7" r="30.5"/><circle cx="741.2" cy="661.5" r="8.2"/><circle cx="711.2" cy="742.2" r="8.2"/><circle cx="726.2" cy="503.7" r="6.7"/>
<rect x="212.7" y="311" width="151.5" height="200.2"/><rect x="515" y="311" width="150" height="200.2"/>
<path d="M364.2,335.2 H515 M364.2,511.2 H515"/><path class="k" d="M212.7,411.2 H665"/>
<path class="t" d="M212.7,361.3 H364.2 M515,361.3 H665 M212.7,461.8 H665"/>
<rect x="47.5" y="319.5" width="11.2" height="269.2"/><rect x="58.7" y="443.7" width="70" height="41.3"/>
<path class="t" d="M58.7,457.5 H128.7 M58.7,462 H128.7 M58.7,467.5 H128.7 M58.7,472 H128.7"/>
<path stroke-linejoin="round" d="M90,570.7 L156,559 A19.2,19.2 0 0 0 156,521.7 L90,510 L89.5,513.8 C84,515.0 79.6,515.4 79.6,518 C79.6,520.6 84,522.5 89.5,523.7 C84,524.9000000000001 79.6,526.9 79.6,529.5 C79.6,532.1 84,533.8 89.5,535 C84,536.2 79.6,537.9 79.6,540.5 C79.6,543.1 84,545.8 89.5,547 C84,548.2 79.6,549.9 79.6,552.5 C79.6,555.1 84,556.8 89.5,558 C84,559.2 79.6,561.1 79.6,563.7 C79.6,566.3000000000001 84,566.3 89.5,567.5 Z"/>
<rect x="93" y="530.5" width="67" height="20.7" rx="10.3"/>
<path d="M103,600.7 A89.3,89.3 0 0 1 127.5,594.5 V610.3 A8.35,8.35 0 0 0 144.2,610.3 V594.5 A89.3,89.3 0 0 1 168,600.3 V620 A16,16 0 0 0 184,636 L187.6,634.5 M168,600.3 L224.2,697.2 A89.3,89.3 0 0 1 191.2,754 H80.5 A89.3,89.3 0 0 1 47.5,696 L103,600.7"/>
<circle cx="135.7" cy="683.5" r="16"/>
<circle cx="69.2" cy="722.5" r="8.4"/>
<circle cx="203" cy="722.5" r="8.4"/>
<circle class="t" cx="178.2" cy="714.7" r="7"/>
<circle class="t" cx="178.2" cy="714.7" r="3.4"/>
<path class="k" d="M168.6,601 L224.4,697.6"/>
<path d="M170,601 A89.3,89.3 0 0 1 203.4,547 H313 A89.3,89.3 0 0 1 346.3,603.7 L310,667.2 L306,666 A16,16 0 0 0 290.5,682 V700.8 A89.3,89.3 0 0 1 266.2,706.4 V690.2 A8.1,8.1 0 0 0 250,690.2 V706.4 A89.3,89.3 0 0 1 224.4,700"/>
<circle cx="258.2" cy="617.5" r="16"/>
<circle cx="191.2" cy="578.7" r="8.2"/>
<circle cx="325" cy="578.7" r="8.2"/>
<circle class="t" cx="291.5" cy="657.7" r="7"/>
<circle class="t" cx="291.5" cy="657.7" r="3.4"/>
<rect x="388.2" y="538.7" width="161.8" height="17" rx="8.5"/>
<path class="w" d="M463.2,555.7 H474.5"/>
<path d="M462,555.7 V688 Q462,692 457,694 M475.7,555.7 V688 Q475.7,692 481,694"/>
<rect x="451.7" y="694" width="35.3" height="16.2" rx="3"/>
<path d="M453.2,710.2 V723 Q453.2,726 456,726 H466.5 Q469.2,726 469.2,723 V710.2"/>
<rect x="397.5" y="586.7" width="48" height="16.5" rx="3"/>
<rect x="341.2" y="739.2" width="161.3" height="17.5" rx="8.7"/>
<path class="w" d="M415.7,739.2 H427.5"/>
<path d="M414.5,603.2 V739.2 M428.7,603.2 V739.2"/>
<circle cx="644.2" cy="558.7" r="19.4"/><circle class="t" cx="644.2" cy="558.7" r="8.3"/><circle class="t" cx="644.2" cy="558.7" r="6.4"/>
<path d="M520.3,632 Q519.3,618.5 524,613.5 A78.6,78.6 0 0 1 636,610.5 Q640.8,614.5 640.4,624 L642,660 Q642.3,668 639.5,676 L619.5,737 Q617.5,743 611,745.5 A62,62 0 0 1 560,746 Q555,743.5 552.5,738 L526,681 Q522.3,673 521.8,664 Z"/>
<ellipse cx="536.2" cy="628.4" rx="11.2" ry="10.2" transform="rotate(-35 536.2 628.4)"/><ellipse cx="624.2" cy="624" rx="11.2" ry="10.2" transform="rotate(35 624.2 624)"/><circle cx="585.7" cy="732.2" r="12"/>
<path class="t" d="M581.7,650.5 L599.5,659.7 L600,680.5 L583.2,689.7 L565.5,680.5 L565,660.2 Z"/>
<text x="144.1" y="71.9" textLength="63.6" lengthAdjust="spacingAndGlyphs">400.0444</text>
<text x="253.6" y="127.4" textLength="63.6" lengthAdjust="spacingAndGlyphs">400.0444</text>
<text x="341.3" y="60.9" textLength="63.6" lengthAdjust="spacingAndGlyphs">400.0438</text>
<text x="460.8" y="79.6" textLength="63.6" lengthAdjust="spacingAndGlyphs">400.0437</text>
<text x="431.6" y="172.4" textLength="63.6" lengthAdjust="spacingAndGlyphs">400.0435</text>
<text x="674.1" y="153.4" textLength="63.6" lengthAdjust="spacingAndGlyphs">400.0439</text>
<text x="767.1" y="127.4" textLength="63.6" lengthAdjust="spacingAndGlyphs">400.9004</text>
<text x="34.1" y="277.4" textLength="63.6" lengthAdjust="spacingAndGlyphs">400.0442</text>
<text x="208.3" y="287.4" textLength="63.6" lengthAdjust="spacingAndGlyphs">400.0441</text>
<text x="347.6" y="277.4" textLength="63.6" lengthAdjust="spacingAndGlyphs">400.0441</text>
<text x="661.3" y="250.4" textLength="63.6" lengthAdjust="spacingAndGlyphs">400.0428</text>
<text x="256.3" y="358.4" textLength="63.6" lengthAdjust="spacingAndGlyphs">400.9029</text>
<text x="404.6" y="358.4" textLength="63.6" lengthAdjust="spacingAndGlyphs">400.9034</text>
<text x="558.3" y="358.4" textLength="63.6" lengthAdjust="spacingAndGlyphs">400.9033</text>
<text x="60.3" y="439.1" textLength="63.6" lengthAdjust="spacingAndGlyphs">400.0440</text>
<text x="144.1" y="501.6" textLength="63.6" lengthAdjust="spacingAndGlyphs">400.0442</text>
<text x="256.3" y="474.6" textLength="63.6" lengthAdjust="spacingAndGlyphs">400.9030</text>
<text x="410.8" y="474.6" textLength="63.6" lengthAdjust="spacingAndGlyphs">400.9031</text>
<text x="558.3" y="474.6" textLength="63.6" lengthAdjust="spacingAndGlyphs">400.9032</text>
<text x="693.8" y="472.9" textLength="63.6" lengthAdjust="spacingAndGlyphs">400.0443</text>
<text x="95.1" y="546.6" textLength="63.6" lengthAdjust="spacingAndGlyphs">400.0436</text>
<text x="224.6" y="576.6" textLength="63.6" lengthAdjust="spacingAndGlyphs">400.0502</text>
<text x="104.1" y="654.6" textLength="63.6" lengthAdjust="spacingAndGlyphs">400.0502</text>
<text x="439.1" y="553.4" textLength="63.6" lengthAdjust="spacingAndGlyphs">400.0447</text>
<text x="612.1" y="531.6" textLength="63.6" lengthAdjust="spacingAndGlyphs">400.0445</text>
<text x="549.6" y="645.6" textLength="63.6" lengthAdjust="spacingAndGlyphs">400.0445</text>
<text x="389.6" y="753.9" textLength="63.6" lengthAdjust="spacingAndGlyphs">400.0446</text>
<text x="694.4" y="649.4" textLength="63.6" lengthAdjust="spacingAndGlyphs">400.0443</text>
<text x="784.1" y="707.1" textLength="63.6" lengthAdjust="spacingAndGlyphs">400.9027</text>
</g>
</svg>
</body></html>
